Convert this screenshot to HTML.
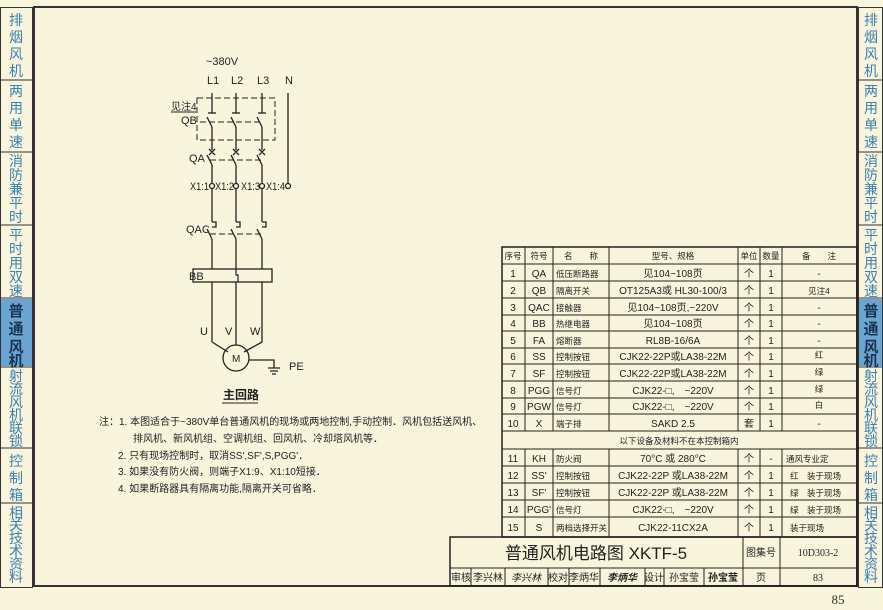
<!DOCTYPE html>
<html><head><meta charset="utf-8"><style>
html,body{margin:0;padding:0;background:#f8f5dc;}
svg{display:block;font-family:"Liberation Sans","Noto Sans CJK SC",sans-serif;}
.s{fill:#3a80b5;font-size:14px;}
.t{font-size:10px;fill:#222;}
.c{font-size:8.5px;fill:#222;}
</style></head><body>
<svg width="883" height="610" viewBox="0 0 883 610" xmlns="http://www.w3.org/2000/svg">
<rect width="883" height="610" fill="#f8f5dc"/>
<!-- sidebars -->
<g stroke="#333" stroke-width="1" fill="none">
<rect x="0.5" y="7.5" width="32" height="580"/>
<rect x="858.5" y="7.5" width="24" height="580"/>
<line x1="0" y1="80" x2="33" y2="80"/><line x1="0" y1="152" x2="33" y2="152"/><line x1="0" y1="225" x2="33" y2="225"/><line x1="0" y1="298" x2="33" y2="298"/><line x1="0" y1="367" x2="33" y2="367"/><line x1="0" y1="448" x2="33" y2="448"/><line x1="0" y1="503" x2="33" y2="503"/>
<line x1="858" y1="80" x2="883" y2="80"/><line x1="858" y1="152" x2="883" y2="152"/><line x1="858" y1="225" x2="883" y2="225"/><line x1="858" y1="298" x2="883" y2="298"/><line x1="858" y1="367" x2="883" y2="367"/><line x1="858" y1="448" x2="883" y2="448"/><line x1="858" y1="503" x2="883" y2="503"/>
</g>
<rect x="1" y="299" width="31" height="67" fill="#6aa5d2"/>
<rect x="859" y="299" width="23" height="67" fill="#6aa5d2"/>
<g class="s" text-anchor="middle">
<text x="16" y="25">排</text><text x="16" y="42">烟</text><text x="16" y="59">风</text><text x="16" y="76">机</text>
<text x="16" y="96">两</text><text x="16" y="113">用</text><text x="16" y="130">单</text><text x="16" y="147">速</text>
<text x="871" y="25">排</text><text x="871" y="42">烟</text><text x="871" y="59">风</text><text x="871" y="76">机</text>
<text x="871" y="96">两</text><text x="871" y="113">用</text><text x="871" y="130">单</text><text x="871" y="147">速</text>
</g>
<g class="s" text-anchor="middle" font-size="13">
<text x="16" y="166">消</text><text x="16" y="180">防</text><text x="16" y="194">兼</text><text x="16" y="208">平</text><text x="16" y="222">时</text>
<text x="16" y="240">平</text><text x="16" y="254">时</text><text x="16" y="268">用</text><text x="16" y="282">双</text><text x="16" y="296">速</text>
<text x="871" y="166">消</text><text x="871" y="180">防</text><text x="871" y="194">兼</text><text x="871" y="208">平</text><text x="871" y="222">时</text>
<text x="871" y="240">平</text><text x="871" y="254">时</text><text x="871" y="268">用</text><text x="871" y="282">双</text><text x="871" y="296">速</text>
</g>
<g text-anchor="middle" font-size="15" fill="#1a3350" font-weight="bold">
<text x="16" y="316">普</text><text x="16" y="334">通</text><text x="16" y="352">风</text><text x="16" y="366">机</text>
<text x="871" y="316">普</text><text x="871" y="334">通</text><text x="871" y="352">风</text><text x="871" y="366">机</text>
</g>
<g class="s" text-anchor="middle" font-size="12.5">
<text x="16" y="381">射</text><text x="16" y="394">流</text><text x="16" y="407">风</text><text x="16" y="420">机</text><text x="16" y="433">联</text><text x="16" y="446">锁</text>
<text x="16" y="466">控</text><text x="16" y="483">制</text><text x="16" y="500">箱</text>
<text x="16" y="518">相</text><text x="16" y="530">关</text><text x="16" y="543">技</text><text x="16" y="556">术</text><text x="16" y="569">资</text><text x="16" y="582">料</text>
<text x="871" y="381">射</text><text x="871" y="394">流</text><text x="871" y="407">风</text><text x="871" y="420">机</text><text x="871" y="433">联</text><text x="871" y="446">锁</text>
<text x="871" y="466">控</text><text x="871" y="483">制</text><text x="871" y="500">箱</text>
<text x="871" y="518">相</text><text x="871" y="530">关</text><text x="871" y="543">技</text><text x="871" y="556">术</text><text x="871" y="569">资</text><text x="871" y="582">料</text>
</g>
<!-- frame -->
<rect x="34" y="7" width="823" height="579" fill="none" stroke="#333" stroke-width="2"/>
<text x="838" y="604" font-size="13" fill="#333" font-family="Liberation Serif,serif" text-anchor="middle">85</text>

<!-- circuit -->
<g stroke="#222" stroke-width="1.3" fill="none">
<line x1="212" y1="93" x2="212" y2="113"/><line x1="236" y1="93" x2="236" y2="113"/><line x1="262" y1="93" x2="262" y2="113"/>
<line x1="208" y1="113" x2="216" y2="113"/><line x1="232" y1="113" x2="240" y2="113"/><line x1="258" y1="113" x2="266" y2="113"/>
<line x1="207" y1="117" x2="212" y2="127"/><line x1="231" y1="117" x2="236" y2="127"/><line x1="257" y1="117" x2="262" y2="127"/>
<line x1="212" y1="127" x2="212" y2="150"/><line x1="236" y1="127" x2="236" y2="150"/><line x1="262" y1="127" x2="262" y2="150"/>
<line x1="288" y1="93" x2="288" y2="184"/>
<path d="M209 149l6 6M215 149l-6 6M233 149l6 6M239 149l-6 6M259 149l6 6M265 149l-6 6"/>
<line x1="207" y1="155" x2="212" y2="165"/><line x1="231" y1="155" x2="236" y2="165"/><line x1="257" y1="155" x2="262" y2="165"/>
<line x1="212" y1="165" x2="212" y2="183"/><line x1="236" y1="165" x2="236" y2="183"/><line x1="262" y1="165" x2="262" y2="183"/>
<circle cx="212" cy="186" r="2.5"/><circle cx="236" cy="186" r="2.5"/><circle cx="262" cy="186" r="2.5"/><circle cx="288" cy="186" r="2.5"/>
<line x1="212" y1="189" x2="212" y2="222"/><line x1="236" y1="189" x2="236" y2="222"/><line x1="262" y1="189" x2="262" y2="222"/>
<path d="M212 222h4v5h-4M236 222h4v5h-4M262 222h4v5h-4"/>
<line x1="207" y1="229" x2="212" y2="239"/><line x1="231" y1="229" x2="236" y2="239"/><line x1="257" y1="229" x2="262" y2="239"/>
<line x1="212" y1="239" x2="212" y2="342"/><line x1="236" y1="239" x2="236" y2="345"/><line x1="262" y1="239" x2="262" y2="342"/>
<line x1="212" y1="342" x2="228" y2="352"/><line x1="262" y1="342" x2="244" y2="352"/>
<circle cx="236" cy="358" r="13"/>
<path d="M249 360h25v8M268 368h12M270 371h8M272 374h4"/>
</g>
<rect x="193" y="269" width="79" height="13" fill="#f8f5dc" stroke="#222" stroke-width="1.3"/>
<path d="M236 269v6h2v7" stroke="#222" stroke-width="1.2" fill="none"/>
<g stroke="#222" stroke-width="1" fill="none" stroke-dasharray="6,3">
<rect x="197" y="98" width="78" height="42"/>
<line x1="200" y1="122" x2="262" y2="122"/>
<line x1="210" y1="160" x2="262" y2="160"/>
<line x1="210" y1="234" x2="262" y2="234"/>
</g>
<line x1="171" y1="112" x2="196" y2="112" stroke="#222"/>
<g font-size="11" fill="#222">
<text x="206" y="65">~380V</text>
<text x="207" y="84">L1</text><text x="231" y="84">L2</text><text x="257" y="84">L3</text><text x="285" y="84">N</text>
<text x="171" y="110" font-size="10">见注4</text>
<text x="181" y="124">QB</text>
<text x="189" y="162">QA</text>
<text x="190" y="190" textLength="19" lengthAdjust="spacingAndGlyphs">X1:1</text>
<text x="215" y="190" textLength="19" lengthAdjust="spacingAndGlyphs">X1:2</text>
<text x="241" y="190" textLength="19" lengthAdjust="spacingAndGlyphs">X1:3</text>
<text x="266" y="190" textLength="19" lengthAdjust="spacingAndGlyphs">X1:4</text>
<text x="186" y="233">QAC</text>
<text x="189" y="280">BB</text>
<text x="200" y="335">U</text><text x="225" y="335">V</text><text x="250" y="335">W</text>
<text x="232" y="362" font-size="10">M</text>
<text x="289" y="370">PE</text>
</g>
<text x="223" y="399" font-size="12" fill="#222" font-weight="bold">主回路</text>
<line x1="222" y1="403" x2="258" y2="403" stroke="#222"/>
<g font-size="10" fill="#222">
<text x="99" y="425">注：1. 本图适合于~380V单台普通风机的现场或两地控制,手动控制．风机包括送风机、</text>
<text x="133" y="442">排风机、新风机组、空调机组、回风机、冷却塔风机等．</text>
<text x="118" y="459">2. 只有现场控制时，取消SS',SF',S,PGG'．</text>
<text x="118" y="475">3. 如果没有防火阀，则端子X1:9、X1:10短接．</text>
<text x="118" y="492">4. 如果断路器具有隔离功能,隔离开关可省略．</text>
</g>

<!-- table -->
<g stroke="#222" stroke-width="1" fill="none">
<rect x="502" y="247" width="355" height="290" stroke-width="1.5"/>
<line x1="502" y1="264" x2="857" y2="264"/>
<line x1="502" y1="281" x2="857" y2="281"/><line x1="502" y1="298" x2="857" y2="298"/><line x1="502" y1="315" x2="857" y2="315"/><line x1="502" y1="331" x2="857" y2="331"/><line x1="502" y1="348" x2="857" y2="348"/><line x1="502" y1="364" x2="857" y2="364"/><line x1="502" y1="381" x2="857" y2="381"/><line x1="502" y1="398" x2="857" y2="398"/><line x1="502" y1="414" x2="857" y2="414"/><line x1="502" y1="431" x2="857" y2="431"/>
<line x1="502" y1="449" x2="857" y2="449"/><line x1="502" y1="466" x2="857" y2="466"/><line x1="502" y1="483" x2="857" y2="483"/><line x1="502" y1="500" x2="857" y2="500"/><line x1="502" y1="517" x2="857" y2="517"/>
<path d="M525 247V431M553 247V431M609 247V431M738 247V431M760 247V431M782 247V431"/>
<path d="M525 449V537M553 449V537M609 449V537M738 449V537M760 449V537M782 449V537"/>
<rect x="450" y="537" width="407" height="49" stroke-width="1.5"/>
<line x1="450" y1="568" x2="857" y2="568"/>
<path d="M743 537V586M780 537V586"/>
<path d="M471 568V586M505 568V586M548 568V586M569 568V586M600 568V586M645 568V586M664 568V586M704 568V586"/>
</g>
<g class="t" text-anchor="middle">
<text x="513" y="259" class="c">序号</text><text x="539" y="259" class="c">符号</text><text x="581" y="259" class="c">名　　称</text><text x="673" y="259" class="c">型号、规格</text><text x="749" y="259" class="c">单位</text><text x="771" y="259" class="c">数量</text><text x="819" y="259" class="c">备　　注</text>
</g>
<g class="t">
<g text-anchor="middle">
<text x="513" y="277">1</text><text x="513" y="294">2</text><text x="513" y="311">3</text><text x="513" y="327">4</text><text x="513" y="344">5</text><text x="513" y="360">6</text><text x="513" y="377">7</text><text x="513" y="394">8</text><text x="513" y="410">9</text><text x="513" y="427">10</text>
<text x="539" y="277">QA</text><text x="539" y="294">QB</text><text x="539" y="311">QAC</text><text x="539" y="327">BB</text><text x="539" y="344">FA</text><text x="539" y="360">SS</text><text x="539" y="377">SF</text><text x="539" y="394">PGG</text><text x="539" y="410">PGW</text><text x="539" y="427">X</text>
<text x="673" y="277">见104~108页</text><text x="673" y="294">OT125A3或 HL30-100/3</text><text x="673" y="311">见104~108页,~220V</text><text x="673" y="327">见104~108页</text><text x="673" y="344">RL8B-16/6A</text><text x="673" y="360">CJK22-22P或LA38-22M</text><text x="673" y="377">CJK22-22P或LA38-22M</text><text x="673" y="394">CJK22-□,　~220V</text><text x="673" y="410">CJK22-□,　~220V</text><text x="673" y="427">SAKD 2.5</text>
<text x="749" y="277">个</text><text x="749" y="294">个</text><text x="749" y="311">个</text><text x="749" y="327">个</text><text x="749" y="344">个</text><text x="749" y="360">个</text><text x="749" y="377">个</text><text x="749" y="394">个</text><text x="749" y="410">个</text><text x="749" y="427">套</text>
<text x="771" y="277">1</text><text x="771" y="294">1</text><text x="771" y="311">1</text><text x="771" y="327">1</text><text x="771" y="344">1</text><text x="771" y="360">1</text><text x="771" y="377">1</text><text x="771" y="394">1</text><text x="771" y="410">1</text><text x="771" y="427">1</text>
<text x="819" y="277">-</text><text x="819" y="294" class="c">见注4</text><text x="819" y="311">-</text><text x="819" y="327">-</text><text x="819" y="344">-</text><text x="819" y="358" class="c">红</text><text x="819" y="375" class="c">绿</text><text x="819" y="392" class="c">绿</text><text x="819" y="408" class="c">白</text><text x="819" y="427">-</text>
<text x="679" y="444" class="c">以下设备及材料不在本控制箱内</text>
<text x="513" y="462">11</text><text x="513" y="479">12</text><text x="513" y="496">13</text><text x="513" y="513">14</text><text x="513" y="531">15</text>
<text x="539" y="462">KH</text><text x="539" y="479">SS'</text><text x="539" y="496">SF'</text><text x="539" y="513">PGG'</text><text x="539" y="531">S</text>
<text x="673" y="462">70°C 或 280°C</text><text x="673" y="479">CJK22-22P 或LA38-22M</text><text x="673" y="496">CJK22-22P 或LA38-22M</text><text x="673" y="513">CJK22-□,　~220V</text><text x="673" y="531">CJK22-11CX2A</text>
<text x="749" y="462">个</text><text x="749" y="479">个</text><text x="749" y="496">个</text><text x="749" y="513">个</text><text x="749" y="531">个</text>
<text x="771" y="462">-</text><text x="771" y="479">1</text><text x="771" y="496">1</text><text x="771" y="513">1</text><text x="771" y="531">1</text>
</g>
<g class="c">
<text x="556" y="277">低压断路器</text><text x="556" y="294">隔离开关</text><text x="556" y="311">接触器</text><text x="556" y="327">热继电器</text><text x="556" y="344">熔断器</text><text x="556" y="360">控制按钮</text><text x="556" y="377">控制按钮</text><text x="556" y="394">信号灯</text><text x="556" y="410">信号灯</text><text x="556" y="427">端子排</text>
<text x="556" y="462">防火阀</text><text x="556" y="479">控制按钮</text><text x="556" y="496">控制按钮</text><text x="556" y="513">信号灯</text><text x="556" y="531">两档选择开关</text>
<text x="786" y="462">通风专业定</text><text x="790" y="479">红　装于现场</text><text x="790" y="496">绿　装于现场</text><text x="790" y="513">绿　装于现场</text><text x="790" y="531">装于现场</text>
</g>
</g>
<text x="596" y="559" font-size="17" fill="#222" text-anchor="middle">普通风机电路图 XKTF-5</text>
<g font-size="10" fill="#222" text-anchor="middle">
<text x="761" y="556">图集号</text><text x="818" y="556" font-family="Liberation Serif,serif">10D303-2</text>
<text x="461" y="581">审核</text><text x="488" y="581">李兴林</text><text x="526" y="581" font-style="italic">李兴林</text>
<text x="558" y="581">校对</text><text x="584" y="581">李炳华</text><text x="622" y="581" font-weight="bold" font-style="italic">李炳华</text>
<text x="654" y="581">设计</text><text x="684" y="581">孙宝莹</text><text x="723" y="581" font-weight="bold">孙宝莹</text>
<text x="761" y="581">页</text><text x="818" y="581" font-family="Liberation Serif,serif">83</text>
</g>
</svg>
</body></html>
